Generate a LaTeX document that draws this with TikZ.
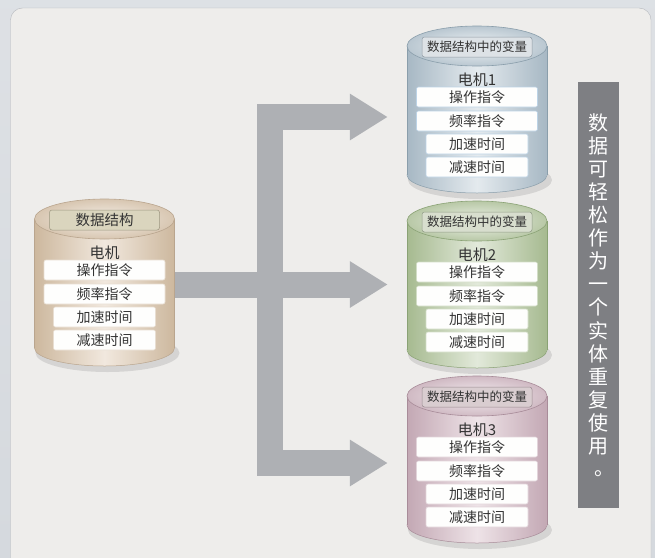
\documentclass[tikz,border=0pt]{standalone}
\usepackage{fontspec}
\setmainfont{Noto Sans CJK SC}
\usetikzlibrary{arrows.meta}
% colour sets: D edge, L middle, C cap, E outline, T header fill, R row border, H header border
\definecolor{tanD}{HTML}{CDB89E}\definecolor{tanL}{HTML}{F1E8DE}\definecolor{tanC}{HTML}{F5EFE8}
\definecolor{tanE}{HTML}{B9A58E}\definecolor{tanT}{HTML}{DAD5BE}\definecolor{tanR}{HTML}{E8DED2}\definecolor{tanH}{HTML}{9C9780}
\definecolor{bluD}{HTML}{A7B8C4}\definecolor{bluL}{HTML}{E4EAEE}\definecolor{bluC}{HTML}{F0F4F6}
\definecolor{bluE}{HTML}{8A9EAB}\definecolor{bluT}{HTML}{DDE2E6}\definecolor{bluR}{HTML}{BCD3E6}\definecolor{bluH}{HTML}{8E9AA3}
\definecolor{grnD}{HTML}{A6BA90}\definecolor{grnL}{HTML}{E2E9DA}\definecolor{grnC}{HTML}{EEF2E9}
\definecolor{grnE}{HTML}{8AA275}\definecolor{grnT}{HTML}{D8DECE}\definecolor{grnR}{HTML}{D2DDC6}\definecolor{grnH}{HTML}{8F9A84}
\definecolor{pnkD}{HTML}{C3A8B4}\definecolor{pnkL}{HTML}{EEE3E7}\definecolor{pnkC}{HTML}{F4EEF1}
\definecolor{pnkE}{HTML}{A88C99}\definecolor{pnkT}{HTML}{D9CDD0}\definecolor{pnkR}{HTML}{E2D4DA}\definecolor{pnkH}{HTML}{9A8A90}
\definecolor{barC}{HTML}{AEB0B4}
\definecolor{noteC}{HTML}{7E7F83}
\definecolor{panelC}{HTML}{EEEDEB}
\definecolor{frameC}{HTML}{D5D9DE}
\definecolor{txtC}{HTML}{333333}
\newcommand\mkcyl[6]{%
  \fill[black,opacity=0.10] (#2+3,#3+100) ellipse [x radius=72pt, y radius=19pt];
  \shade[left color=#4D, right color=#4D, middle color=#4L, draw=#4E, line width=0.5pt]
    (#2,#3+95) ellipse [x radius=70pt, y radius=18pt];
  \shade[left color=#4D, right color=#4D, middle color=#4L]
    (#2-70,#3-34) rectangle (#2+70,#3+95);
  \draw[#4E, line width=0.5pt] (#2-70,#3-34) -- (#2-70,#3+95) (#2+70,#3-34) -- (#2+70,#3+95);
  \shade[inner color=#4C, outer color=#4D!70!#4L, draw=#4E, line width=0.6pt]
    (#2,#3-34) ellipse [x radius=70pt, y radius=20pt];
  \node[inner sep=0pt, minimum width=140pt, minimum height=167pt] (#1) at (#2,#3+29.5) {};
  \node[headbox, fill=#4T, draw=#4H] (#1-h) at (#2,#3-33) {#5};
  \node[motorlbl] (#1-m) at (#2,#3) {#6};
  \node[rowbox, draw=#4R, minimum width=121pt] (#1-a) at (#2,#3+17) {操作指令};
  \node[rowbox, draw=#4R, minimum width=121pt] (#1-b) at (#2,#3+41) {频率指令};
  \node[rowbox, draw=#4R, minimum width=102pt] (#1-c) at (#2,#3+64) {加速时间};
  \node[rowbox, draw=#4R, minimum width=102pt] (#1-d) at (#2,#3+87) {减速时间};
}
\begin{document}
\begin{tikzpicture}[x=1pt,y=-1pt,
  headbox/.style={rounded corners=2.5pt, line width=0.5pt, minimum width=110pt, minimum height=20pt,
    inner sep=0pt, text=txtC, font=\fontsize{12.5}{13}\selectfont},
  motorlbl/.style={inner sep=0pt, text=txtC, font=\fontsize{15}{16}\selectfont},
  rowbox/.style={rounded corners=2pt, line width=0.6pt, minimum height=20pt, inner sep=0pt,
    fill=white!92!panelC, text=txtC, font=\fontsize{14}{15}\selectfont},
  bar/.style={barC, line width=26pt},
  bararrow/.style={barC, line width=26pt, -{Triangle[length=38pt, width=44pt]}, shorten >=19pt}]
\useasboundingbox (0,0) rectangle (655,557);
% background
\shade[top color=frameC!80!white, bottom color=frameC] (0,0) rectangle (655,557);
\fill[panelC, draw=frameC!85!black, line width=0.4pt, rounded corners=12pt] (10.5,8) rectangle (651,600);
% cylinders
\mkcyl{src}{104.5}{253}{tan}{\fontsize{14.5}{15}\selectfont 数据结构}{电机}
\mkcyl{m1}{477}{80}{blu}{数据结构中的变量}{电机1}
\mkcyl{m2}{477}{255}{grn}{数据结构中的变量}{电机2}
\mkcyl{m3}{477}{430}{pnk}{数据结构中的变量}{电机3}
% arrows
\coordinate (vtop) at (270,104);
\coordinate (vbot) at (270,476);
\coordinate (b1) at (257,117);
\coordinate (b3) at (257,463);
\draw[bar] (vtop) -- (vbot);
\draw[bararrow] (m2.west -| src.east) -- (m2.west);
\draw[bararrow] (b1) -- (b1 -| m1.west);
\draw[bararrow] (b3) -- (b3 -| m3.west);
% note
\node[fill=noteC, minimum width=41pt, minimum height=426pt, inner sep=0pt, text=white, align=center,
  font=\fontsize{20}{23.1}\selectfont] (note) at (598.5,295)
  {数\\据\\可\\轻\\松\\作\\为\\一\\个\\实\\体\\重\\复\\使\\用\\\hspace*{0.55em}\raisebox{0.08em}{。}};
\end{tikzpicture}
\end{document}
